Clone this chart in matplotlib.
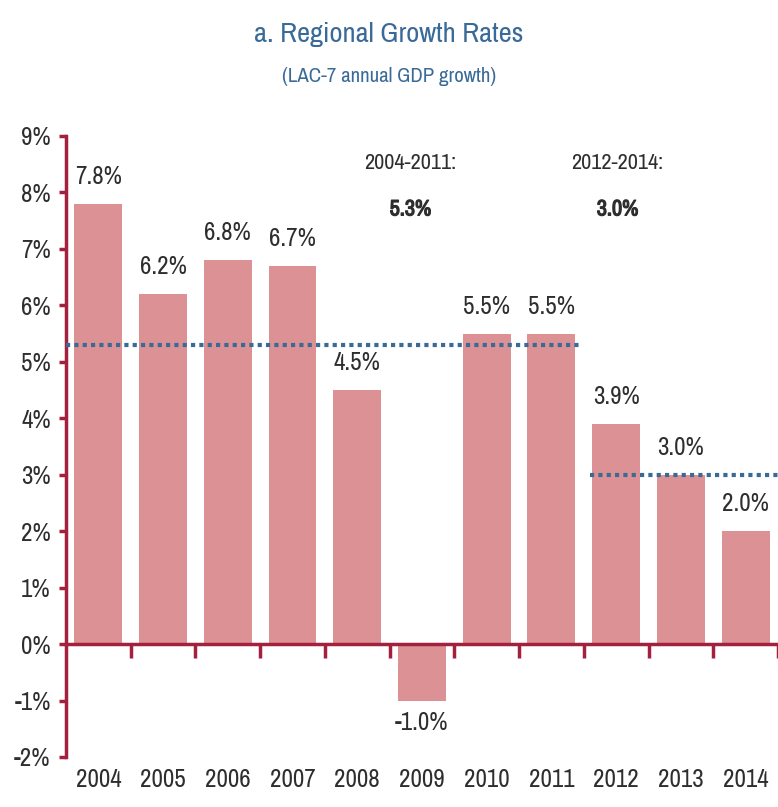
import matplotlib
matplotlib.use("Agg")
import matplotlib.pyplot as plt
import matplotlib.transforms as mtransforms
import matplotlib.font_manager as fm
import matplotlib.patheffects as pe
import numpy as np

years = ["2004", "2005", "2006", "2007", "2008", "2009", "2010", "2011", "2012", "2013", "2014"]
growth = [7.8, 6.2, 6.8, 6.7, 4.5, -1.0, 5.5, 5.5, 3.9, 3.0, 2.0]
avg_2004_2011 = 5.3
avg_2012_2014 = 3.0
y_ticks = [-2, -1, 0, 1, 2, 3, 4, 5, 6, 7, 8, 9]

entries = fm.fontManager.ttflist
narrow_all = sorted({f.name for f in entries if ('Narrow' in f.name or 'Condensed' in f.name)})
if narrow_all:
    FONT = [narrow_all[0], 'DejaVu Sans']
    k = 1.0
else:
    FONT = ['Liberation Sans', 'DejaVu Sans']
    k = 0.8
plt.rcParams['font.family'] = FONT

BAR = '#dc9294'
SPINE = '#a3213f'
BLUE = '#3a6a98'
TXT = '#2e2e2e'
BOLD = [pe.withStroke(linewidth=0.9, foreground=TXT)]

fig = plt.figure(figsize=(7.78, 8.07), dpi=100)
ax = fig.add_axes([0.0848, 0.062, 0.9152, 0.7695])

x = np.arange(len(years))
ax.bar(x, growth, width=0.74, color=BAR, zorder=2)

ax.set_xlim(-0.5, len(years) - 0.5)
ax.set_ylim(-2, 9)

# average lines
ax.hlines(avg_2004_2011, -0.5, 7.42, colors=BLUE, linestyles=(0, (1, 1)), linewidth=3, zorder=3)
ax.hlines(avg_2012_2014, 7.6, 10.5, colors=BLUE, linestyles=(0, (1, 1)), linewidth=3, zorder=3)

# value labels
for xi, v in zip(x, growth):
    if v >= 0:
        ax.text(xi, v + 0.28, f"{v:.1f}%", ha='center', va='bottom', fontsize=18 * k, color=TXT)
    else:
        ax.text(xi, v - 0.18, f"{v:.1f}%", ha='center', va='top', fontsize=18 * k, color=TXT)

# period annotations
ax.text(4.82, 8.53, "2004-2011:", ha='center', va='center', fontsize=16 * k, color=TXT)
ax.text(4.82, 7.7, f"{avg_2004_2011:.1f}%", ha='center', va='center', fontsize=16 * k, color=TXT,
        path_effects=BOLD)
ax.text(8.02, 8.53, "2012-2014:", ha='center', va='center', fontsize=16 * k, color=TXT)
ax.text(8.02, 7.7, f"{avg_2012_2014:.1f}%", ha='center', va='center', fontsize=16 * k, color=TXT,
        path_effects=BOLD)

# spines
for s in ['top', 'right']:
    ax.spines[s].set_visible(False)
ax.spines['left'].set_color(SPINE)
ax.spines['left'].set_linewidth(2.5)
ax.spines['bottom'].set_position(('data', 0))
ax.spines['bottom'].set_color(SPINE)
ax.spines['bottom'].set_linewidth(2.5)

ax.set_yticks(y_ticks)
ax.set_yticklabels([f"{t}%" for t in y_ticks], fontsize=18 * k, color=TXT)
ax.tick_params(axis='y', direction='out', length=5, width=2.5, color=SPINE, pad=6)

ax.set_xticks(x)
ax.set_xticklabels([])
ax.tick_params(axis='x', which='major', length=0)
ax.set_xticks(np.arange(0.5, len(years) - 0.5 + 1, 1.0), minor=True)
ax.tick_params(axis='x', which='minor', direction='out', length=10, width=2.5, color=SPINE)

trans = mtransforms.blended_transform_factory(ax.transData, ax.transAxes)
for xi, yr in zip(x, years):
    ax.text(xi, -0.037, yr, transform=trans, ha='center', va='center', fontsize=18 * k, color=TXT)

fig.text(0.5, 0.957, "a. Regional Growth Rates", ha='center', va='center', fontsize=20.5 * k, color=BLUE)
fig.text(0.5, 0.905, "(LAC-7 annual GDP growth)", ha='center', va='center', fontsize=15 * k, color=BLUE)

fig.savefig("out.png", dpi=100)
